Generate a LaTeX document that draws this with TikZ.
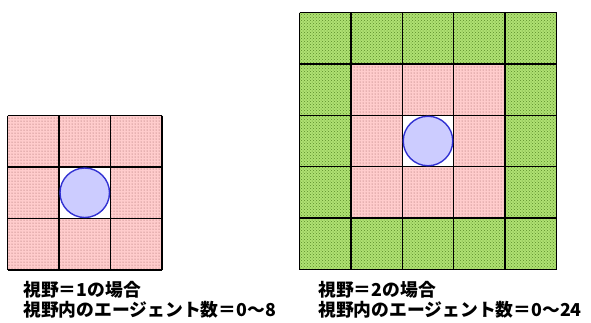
\documentclass[tikz,border=0pt]{standalone}
\usepackage{fontspec}
\newfontfamily\jp{Noto Sans CJK JP}
\usetikzlibrary{patterns}
\definecolor{pinkc}{RGB}{255,204,204}
\definecolor{pinkdot}{RGB}{150,90,90}
\definecolor{greenc}{RGB}{175,225,115}
\definecolor{greendot}{RGB}{90,140,40}
\definecolor{agentfill}{RGB}{204,204,255}
\definecolor{agentline}{RGB}{50,50,210}
\tikzset{
  pinkcell/.style={fill=pinkc, postaction={pattern=dots, pattern color=pinkdot}},
  greencell/.style={fill=greenc, postaction={pattern=crosshatch dots, pattern color=greendot}},
  gridline/.style={draw=black, line width=1.4pt},
  agent/.style={circle, draw=agentline, fill=agentfill, line width=1.4pt, minimum size=49.5pt, inner sep=0pt},
  caption/.style={anchor=north west, align=left, font=\jp\bfseries\fontsize{17.8}{20.5}\selectfont, inner sep=0pt}
}
\begin{document}
\begin{tikzpicture}[x=1pt,y=-1pt]
\useasboundingbox (0,0) rectangle (591,322);
% left grid
\def\lx{7.5}\def\ly{115.5}\def\lc{51.5}
\foreach \i in {0,1,2}{
  \foreach \j in {0,1,2}{
    \ifnum\i=1 \ifnum\j=1 \else
      \path[pinkcell] (\lx+\i*\lc,\ly+\j*\lc) rectangle ++(\lc,\lc);
    \fi\else
      \path[pinkcell] (\lx+\i*\lc,\ly+\j*\lc) rectangle ++(\lc,\lc);
    \fi
  }
}
\foreach \k in {0,...,3}{
  \draw[gridline] (\lx+\k*\lc,\ly) -- (\lx+\k*\lc,\ly+3*\lc);
  \draw[gridline] (\lx,\ly+\k*\lc) -- (\lx+3*\lc,\ly+\k*\lc);
}
\node[agent] (agentL) at (\lx+1.5*\lc,\ly+1.5*\lc) {};
% right grid
\def\rx{299.5}\def\ry{12.5}\def\rc{51.4}
\foreach \i in {0,...,4}{
  \foreach \j in {0,...,4}{
    \pgfmathtruncatemacro{\ring}{max(abs(\i-2),abs(\j-2))}
    \ifnum\ring=2
      \path[greencell] (\rx+\i*\rc,\ry+\j*\rc) rectangle ++(\rc,\rc);
    \fi
    \ifnum\ring=1
      \path[pinkcell] (\rx+\i*\rc,\ry+\j*\rc) rectangle ++(\rc,\rc);
    \fi
  }
}
\foreach \k in {0,...,5}{
  \draw[gridline] (\rx+\k*\rc,\ry) -- (\rx+\k*\rc,\ry+5*\rc);
  \draw[gridline] (\rx,\ry+\k*\rc) -- (\rx+5*\rc,\ry+\k*\rc);
}
\node[agent] (agentR) at (\rx+2.5*\rc,\ry+2.5*\rc) {};
% captions
\node[caption] (capL) at (23,281) {視野＝1の場合\\視野内のエージェント数＝0〜8};
\node[caption] (capR) at (318,281) {視野＝2の場合\\視野内のエージェント数＝0〜24};
\end{tikzpicture}
\end{document}
